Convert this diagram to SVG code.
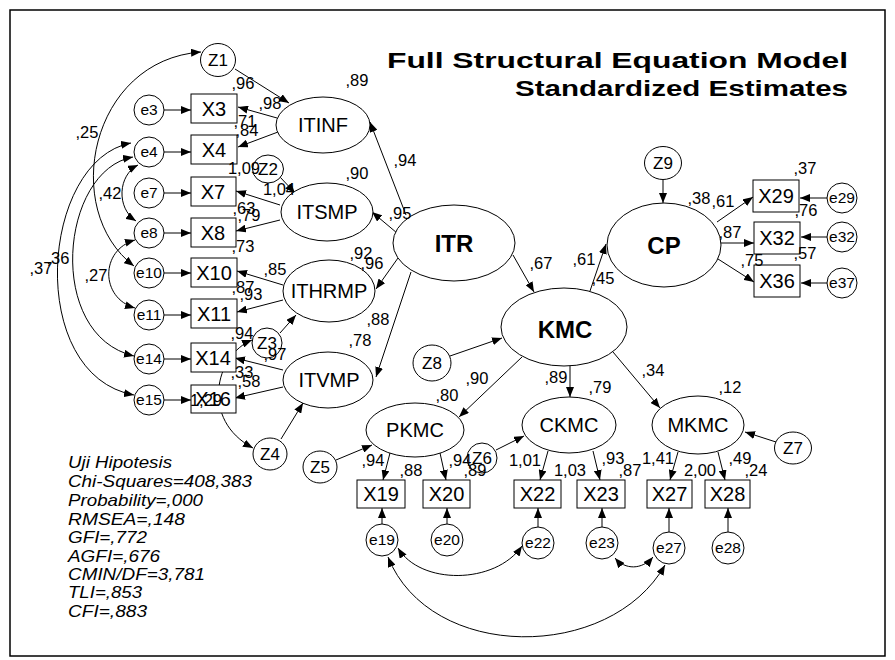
<svg xmlns="http://www.w3.org/2000/svg" width="895" height="660" viewBox="0 0 895 660">
<style>
text{font-family:"Liberation Sans",Arial,sans-serif;fill:#000}
.nd ellipse,.nd rect{fill:#fff;stroke:#000;stroke-width:1}
.c path,.c line{stroke:#000;stroke-width:1;fill:none;marker-end:url(#ah)}
.c .d{marker-start:url(#ah)}
.x{font-size:20px;text-anchor:middle}
.e{font-size:15.5px;text-anchor:middle}
.z{font-size:17px;text-anchor:middle}
.l{font-size:20px;text-anchor:middle}
.b{font-size:24px;font-weight:bold;text-anchor:middle}
.w{font-size:16.5px;text-anchor:middle}
.h{font-size:17px;font-style:italic}
.t{font-size:22px;font-weight:bold}
</style>
<defs>
<marker id="ah" viewBox="0 0 10 8" refX="10" refY="4" markerWidth="10" markerHeight="8" markerUnits="userSpaceOnUse" orient="auto-start-reverse"><path d="M0,0L10,4L0,8z" fill="#000"/></marker>
</defs>
<rect x="10" y="10" width="875" height="646" fill="#fff" stroke="#000" stroke-width="1.5"/>
<text class="t" x="387" y="68" textLength="461" lengthAdjust="spacingAndGlyphs">Full Structural Equation Model</text>
<text class="t" x="515" y="96" textLength="333" lengthAdjust="spacingAndGlyphs">Standardized Estimates</text>
<g id="connectors" class="c">
<line x1="277" y1="118" x2="238" y2="107"/>
<line x1="278" y1="132" x2="238" y2="147"/>
<line x1="280" y1="205" x2="236" y2="191"/>
<line x1="280" y1="220" x2="236" y2="231"/>
<line x1="283" y1="285" x2="237" y2="271"/>
<line x1="283" y1="300" x2="237" y2="312"/>
<line x1="283" y1="370" x2="235" y2="358"/>
<line x1="283" y1="387" x2="235" y2="398"/>
<line x1="164" y1="110" x2="191" y2="110"/>
<line x1="164" y1="152" x2="191" y2="152"/>
<line x1="164" y1="193" x2="191" y2="193"/>
<line x1="164" y1="233" x2="191" y2="233"/>
<line x1="164" y1="273" x2="191" y2="273"/>
<line x1="164" y1="315" x2="191" y2="315"/>
<line x1="164" y1="359" x2="191" y2="359"/>
<line x1="164" y1="400" x2="191" y2="400"/>
<line x1="235" y1="69" x2="289" y2="103"/>
<line x1="280" y1="177" x2="295" y2="193"/>
<line x1="280" y1="333" x2="296" y2="315"/>
<line x1="281" y1="439" x2="303" y2="403"/>
<line x1="406" y1="215" x2="370" y2="122"/>
<line x1="397" y1="233" x2="372" y2="212"/>
<line x1="398" y1="258" x2="376" y2="289"/>
<line x1="411" y1="272" x2="376" y2="377"/>
<line x1="513" y1="255" x2="534" y2="292"/>
<line x1="590" y1="291" x2="606" y2="244"/>
<line x1="663" y1="180" x2="663" y2="203"/>
<line x1="717" y1="222" x2="753" y2="197"/>
<line x1="721" y1="243" x2="754" y2="243"/>
<line x1="718" y1="259" x2="754" y2="282"/>
<line x1="827" y1="198" x2="800" y2="198"/>
<line x1="827" y1="237" x2="801" y2="237"/>
<line x1="827" y1="283" x2="801" y2="283"/>
<line x1="450" y1="356" x2="502" y2="338"/>
<line x1="522" y1="357" x2="459" y2="417"/>
<line x1="570" y1="366" x2="570" y2="397"/>
<line x1="613" y1="352" x2="660" y2="408"/>
<line x1="336" y1="460" x2="372" y2="445"/>
<line x1="496" y1="450" x2="524" y2="436"/>
<line x1="776" y1="442" x2="745" y2="432"/>
<line x1="390" y1="453" x2="383" y2="480"/>
<line x1="440" y1="453" x2="446" y2="480"/>
<line x1="548" y1="451" x2="540" y2="480"/>
<line x1="593" y1="451" x2="600" y2="480"/>
<line x1="678" y1="452" x2="670" y2="480"/>
<line x1="718" y1="452" x2="725" y2="480"/>
<line x1="382" y1="524" x2="382" y2="508"/>
<line x1="447" y1="524" x2="447" y2="508"/>
<line x1="538" y1="527" x2="538" y2="508"/>
<line x1="602" y1="527" x2="602" y2="508"/>
<line x1="669" y1="532" x2="669" y2="508"/>
<line x1="728" y1="532" x2="728" y2="508"/>
<path class="d" d="M201,52 C90,60 60,210 134,266"/>
<path class="d" d="M138,165 C118,175 116,208 136,221"/>
<path class="d" d="M135,240 C100,250 100,298 135,308"/>
<path class="d" d="M133,157 C60,170 45,335 134,356"/>
<path class="d" d="M131,143 C40,160 25,375 134,395"/>
<path class="d" d="M252,340 C215,355 200,420 253,448"/>
<path class="d" d="M398,548 C420,585 495,585 522,546"/>
<path class="d" d="M615,558 C625,570 642,570 653,557"/>
<path class="d" d="M388,557 C430,662 610,662 665,565"/>
</g>
<g id="X3" class="nd"><rect x="191" y="94" width="46" height="29"/><text class="x" x="214" y="116">X3</text></g>
<g id="X4" class="nd"><rect x="191" y="135" width="46" height="29"/><text class="x" x="214" y="157">X4</text></g>
<g id="X7" class="nd"><rect x="191" y="177" width="45" height="29"/><text class="x" x="213" y="199">X7</text></g>
<g id="X8" class="nd"><rect x="191" y="218" width="45" height="29"/><text class="x" x="213" y="240">X8</text></g>
<g id="X10" class="nd"><rect x="191" y="258" width="46" height="29"/><text class="x" x="214" y="280">X10</text></g>
<g id="X11" class="nd"><rect x="191" y="299" width="46" height="29"/><text class="x" x="214" y="321">X11</text></g>
<g id="X14" class="nd"><rect x="191" y="343" width="45" height="29"/><text class="x" x="213" y="365">X14</text></g>
<g id="X16" class="nd"><rect x="191" y="385" width="45" height="28"/><text class="x" x="213" y="406">X16</text></g>
<g id="e3" class="nd"><ellipse cx="149" cy="110" rx="15" ry="15"/><text class="e" x="149" y="115">e3</text></g>
<g id="e4" class="nd"><ellipse cx="149" cy="152" rx="15" ry="15"/><text class="e" x="149" y="157">e4</text></g>
<g id="e7" class="nd"><ellipse cx="149" cy="193" rx="15" ry="15"/><text class="e" x="149" y="198">e7</text></g>
<g id="e8" class="nd"><ellipse cx="149" cy="233" rx="15" ry="15"/><text class="e" x="149" y="238">e8</text></g>
<g id="e10" class="nd"><ellipse cx="149" cy="273" rx="15" ry="15"/><text class="e" x="149" y="278">e10</text></g>
<g id="e11" class="nd"><ellipse cx="149" cy="315" rx="15" ry="15"/><text class="e" x="149" y="320">e11</text></g>
<g id="e14" class="nd"><ellipse cx="149" cy="359" rx="15" ry="15"/><text class="e" x="149" y="364">e14</text></g>
<g id="e15" class="nd"><ellipse cx="149" cy="400" rx="15" ry="15"/><text class="e" x="149" y="405">e15</text></g>
<g id="Z1" class="nd"><ellipse cx="218" cy="60" rx="17.5" ry="16.5"/><text class="z" x="218" y="66">Z1</text></g>
<g id="Z2" class="nd"><ellipse cx="268" cy="169" rx="15.5" ry="14"/><text class="z" x="268" y="175">Z2</text></g>
<g id="Z3" class="nd"><ellipse cx="267" cy="343" rx="15" ry="15"/><text class="z" x="267" y="349">Z3</text></g>
<g id="Z4" class="nd"><ellipse cx="270" cy="454" rx="17" ry="16"/><text class="z" x="270" y="460">Z4</text></g>
<g id="Z5" class="nd"><ellipse cx="320" cy="467" rx="17" ry="16"/><text class="z" x="320" y="473">Z5</text></g>
<g id="Z6" class="nd"><ellipse cx="482" cy="458" rx="15" ry="15"/><text class="z" x="482" y="464">Z6</text></g>
<g id="Z7" class="nd"><ellipse cx="793" cy="448" rx="18.5" ry="16"/><text class="z" x="793" y="454">Z7</text></g>
<g id="Z8" class="nd"><ellipse cx="432" cy="363" rx="19" ry="18"/><text class="z" x="432" y="369">Z8</text></g>
<g id="Z9" class="nd"><ellipse cx="663" cy="163" rx="18.5" ry="16.5"/><text class="z" x="663" y="169">Z9</text></g>
<g id="ITINF" class="nd"><ellipse cx="323" cy="125" rx="47" ry="28"/><text class="l" x="323" y="132">ITINF</text></g>
<g id="ITSMP" class="nd"><ellipse cx="327" cy="212" rx="46" ry="29"/><text class="l" x="327" y="219">ITSMP</text></g>
<g id="ITHRMP" class="nd"><ellipse cx="329" cy="291" rx="46" ry="31"/><text class="l" x="329" y="298">ITHRMP</text></g>
<g id="ITVMP" class="nd"><ellipse cx="328" cy="380" rx="45" ry="28"/><text class="l" x="329" y="387">ITVMP</text></g>
<g id="ITR" class="nd"><ellipse cx="454" cy="243" rx="61" ry="38"/><text class="b" x="454" y="252">ITR</text></g>
<g id="KMC" class="nd"><ellipse cx="564" cy="327" rx="63" ry="39"/><text class="b" x="565" y="338">KMC</text></g>
<g id="CP" class="nd"><ellipse cx="664" cy="245" rx="57" ry="42"/><text class="b" x="664" y="254">CP</text></g>
<g id="PKMC" class="nd"><ellipse cx="415" cy="430" rx="49" ry="27"/><text class="l" x="415" y="437">PKMC</text></g>
<g id="CKMC" class="nd"><ellipse cx="569" cy="425" rx="47" ry="28"/><text class="l" x="569" y="432">CKMC</text></g>
<g id="MKMC" class="nd"><ellipse cx="698" cy="425" rx="46" ry="29"/><text class="l" x="698" y="432">MKMC</text></g>
<g id="X29" class="nd"><rect x="753" y="180" width="46" height="32"/><text class="x" x="776" y="203">X29</text></g>
<g id="X32" class="nd"><rect x="754" y="222" width="46" height="32"/><text class="x" x="777" y="245">X32</text></g>
<g id="X36" class="nd"><rect x="754" y="265" width="46" height="32"/><text class="x" x="777" y="288">X36</text></g>
<g id="e29" class="nd"><ellipse cx="842" cy="198" rx="15" ry="15"/><text class="e" x="842" y="203">e29</text></g>
<g id="e32" class="nd"><ellipse cx="842" cy="237" rx="15" ry="15"/><text class="e" x="842" y="242">e32</text></g>
<g id="e37" class="nd"><ellipse cx="842" cy="283" rx="15" ry="15"/><text class="e" x="842" y="288">e37</text></g>
<g id="X19" class="nd"><rect x="357" y="480" width="48" height="28"/><text class="x" x="381" y="501">X19</text></g>
<g id="X20" class="nd"><rect x="423" y="480" width="47" height="28"/><text class="x" x="446.5" y="501">X20</text></g>
<g id="X22" class="nd"><rect x="514" y="480" width="47" height="28"/><text class="x" x="537.5" y="501">X22</text></g>
<g id="X23" class="nd"><rect x="577" y="480" width="48" height="28"/><text class="x" x="601" y="501">X23</text></g>
<g id="X27" class="nd"><rect x="647" y="480" width="45" height="28"/><text class="x" x="669.5" y="501">X27</text></g>
<g id="X28" class="nd"><rect x="705" y="480" width="45" height="28"/><text class="x" x="727.5" y="501">X28</text></g>
<g id="e19" class="nd"><ellipse cx="382" cy="540" rx="16" ry="16"/><text class="e" x="382" y="545">e19</text></g>
<g id="e20" class="nd"><ellipse cx="447" cy="540" rx="16" ry="16"/><text class="e" x="447" y="545">e20</text></g>
<g id="e22" class="nd"><ellipse cx="538" cy="543" rx="16" ry="16"/><text class="e" x="538" y="548">e22</text></g>
<g id="e23" class="nd"><ellipse cx="602" cy="543" rx="16" ry="16"/><text class="e" x="602" y="548">e23</text></g>
<g id="e27" class="nd"><ellipse cx="669" cy="548" rx="16" ry="16"/><text class="e" x="669" y="553">e27</text></g>
<g id="e28" class="nd"><ellipse cx="728" cy="548" rx="16" ry="16"/><text class="e" x="728" y="553">e28</text></g>
<g id="labels">
<text class="w" x="357" y="86">,89</text>
<text class="w" x="243" y="89">,96</text>
<text class="w" x="270" y="109">,98</text>
<text class="w" x="245" y="127">,71</text>
<text class="w" x="247" y="136">,84</text>
<text class="w" x="244" y="174">1,09</text>
<text class="w" x="279" y="195">1,04</text>
<text class="w" x="357" y="179">,90</text>
<text class="w" x="244" y="214">,63</text>
<text class="w" x="249" y="221">,79</text>
<text class="w" x="243" y="252">,73</text>
<text class="w" x="275" y="275">,85</text>
<text class="w" x="361" y="259">,92</text>
<text class="w" x="372" y="269">,96</text>
<text class="w" x="243" y="293">,87</text>
<text class="w" x="251" y="300">,93</text>
<text class="w" x="242" y="339">,94</text>
<text class="w" x="275" y="360">,97</text>
<text class="w" x="242" y="378">,33</text>
<text class="w" x="249" y="387">,58</text>
<text class="w" x="206" y="406">1,29</text>
<text class="w" x="378" y="325">,88</text>
<text class="w" x="360" y="346">,78</text>
<text class="w" x="405" y="166">,94</text>
<text class="w" x="400" y="219">,95</text>
<text class="w" x="541" y="269">,67</text>
<text class="w" x="584" y="265">,61</text>
<text class="w" x="603" y="284">,45</text>
<text class="w" x="699" y="204">,38</text>
<text class="w" x="723" y="207">,61</text>
<text class="w" x="805" y="174">,37</text>
<text class="w" x="806" y="216">,76</text>
<text class="w" x="730" y="238">,87</text>
<text class="w" x="805" y="259">,57</text>
<text class="w" x="752" y="266">,75</text>
<text class="w" x="477" y="384">,90</text>
<text class="w" x="447" y="401">,80</text>
<text class="w" x="556" y="383">,89</text>
<text class="w" x="600" y="393">,79</text>
<text class="w" x="653" y="376">,34</text>
<text class="w" x="730" y="393">,12</text>
<text class="w" x="373" y="466">,94</text>
<text class="w" x="411" y="476">,88</text>
<text class="w" x="460" y="466">,94</text>
<text class="w" x="475" y="476">,89</text>
<text class="w" x="525" y="466">1,01</text>
<text class="w" x="570" y="476">1,03</text>
<text class="w" x="613" y="464">,93</text>
<text class="w" x="630" y="476">,87</text>
<text class="w" x="658" y="464">1,41</text>
<text class="w" x="700" y="476">2,00</text>
<text class="w" x="740" y="464">,49</text>
<text class="w" x="756" y="476">,24</text>
<text class="w" x="87" y="138">,25</text>
<text class="w" x="110" y="199">,42</text>
<text class="w" x="96" y="281">,27</text>
<text class="w" x="41" y="274">,37</text>
<text class="w" x="58" y="264">,36</text>
</g>
<g id="fit">
<text class="h" x="68" y="468" textLength="104" lengthAdjust="spacingAndGlyphs">Uji Hipotesis</text>
<text class="h" x="68" y="487" textLength="184" lengthAdjust="spacingAndGlyphs">Chi-Squares=408,383</text>
<text class="h" x="68" y="506" textLength="135" lengthAdjust="spacingAndGlyphs">Probability=,000</text>
<text class="h" x="68" y="525" textLength="117" lengthAdjust="spacingAndGlyphs">RMSEA=,148</text>
<text class="h" x="68" y="543" textLength="79" lengthAdjust="spacingAndGlyphs">GFI=,772</text>
<text class="h" x="68" y="562" textLength="92" lengthAdjust="spacingAndGlyphs">AGFI=,676</text>
<text class="h" x="68" y="580" textLength="137" lengthAdjust="spacingAndGlyphs">CMIN/DF=3,781</text>
<text class="h" x="68" y="598" textLength="74" lengthAdjust="spacingAndGlyphs">TLI=,853</text>
<text class="h" x="68" y="617" textLength="79" lengthAdjust="spacingAndGlyphs">CFI=,883</text>
</g>
</svg>
